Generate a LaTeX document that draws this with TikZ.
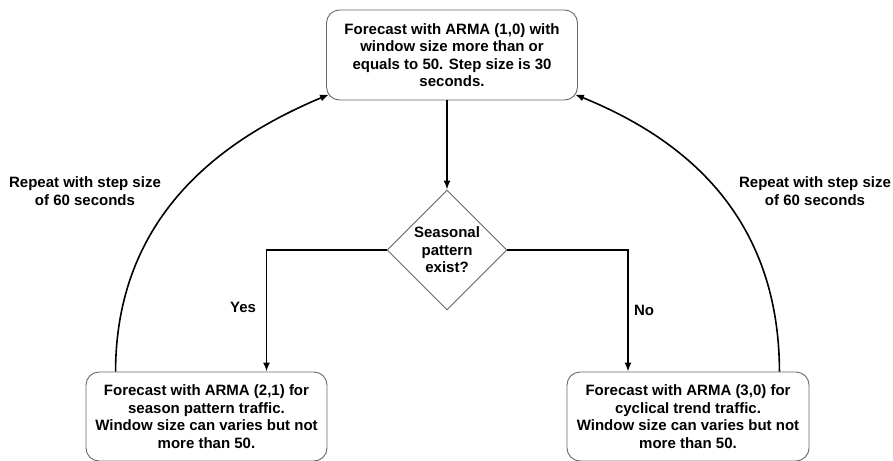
\documentclass[tikz,border=0pt]{standalone}
\usepackage{fontspec}
\setmainfont{Liberation Sans}
\usetikzlibrary{shapes.geometric,arrows.meta,calc}

\begin{document}
\begin{tikzpicture}[x=1pt,y=-1pt,
        txt/.style={font=\bfseries\fontsize{15}{17.5}\selectfont,align=center},
        box/.style={txt,draw=black!60,line width=0.9pt,rounded corners=13pt,inner sep=0pt},
        decision/.style={txt,diamond,draw=black!60,line width=0.9pt,inner sep=0pt,aspect=1,minimum width=120pt,minimum height=120pt},
        flow/.style={line width=1.6pt,-{Latex[length=9pt,width=7pt]}}]
        \useasboundingbox (0,0) rectangle (893,460);
        % Forecast boxes
        \draw (452,55) node[box,minimum width=251pt,minimum height=90pt](top) {Forecast with ARMA (1,0) with\\window size more than or\\equals to 50. Step size is 30\\seconds.};
        \draw (447,250) node[decision](dec) {Seasonal\\pattern\\exist?};
        \draw (206.5,416.5) node[box,minimum width=241pt,minimum height=89pt](lbox) {Forecast with ARMA (2,1) for\\season pattern traffic.\\Window size can varies but not\\more than 50.};
        \draw (688,416.5) node[box,minimum width=242pt,minimum height=89pt](rbox) {Forecast with ARMA (3,0) for\\cyclical trend traffic.\\Window size can varies but not\\more than 50.};
        % Branches
        \coordinate (yes) at ($(lbox.north)+(60,0)$);
        \coordinate (no) at ($(rbox.north)+(-60,0)$);
        \draw[flow] (dec.north |- top.south) -- (dec.north);
        \draw[flow] (dec.west) -| (yes);
        \draw[flow] (dec.east) -| (no);
        \draw (243,307) node[txt](yeslbl) {Yes};
        \draw (644,310) node[txt](nolbl) {No};
        % Repeat loops
        \coordinate (lstart) at ($(lbox.north west)+(30,0)$);
        \coordinate (lend) at ($(top.south west)+(3,-6)$);
        \coordinate (rstart) at ($(rbox.north east)+(-30,0)$);
        \coordinate (rend) at ($(top.south east)+(-3,-6)$);
        \draw[flow] (lstart) .. controls (116,210) and (230,136) .. (lend);
        \draw[flow] (rstart) .. controls (779,210) and (677,136) .. (rend);
        \draw (85,191) node[txt](lrep) {Repeat with step size\\of 60 seconds};
        \draw (815,191) node[txt](rrep) {Repeat with step size\\of 60 seconds};
    \end{tikzpicture}
\end{document}
